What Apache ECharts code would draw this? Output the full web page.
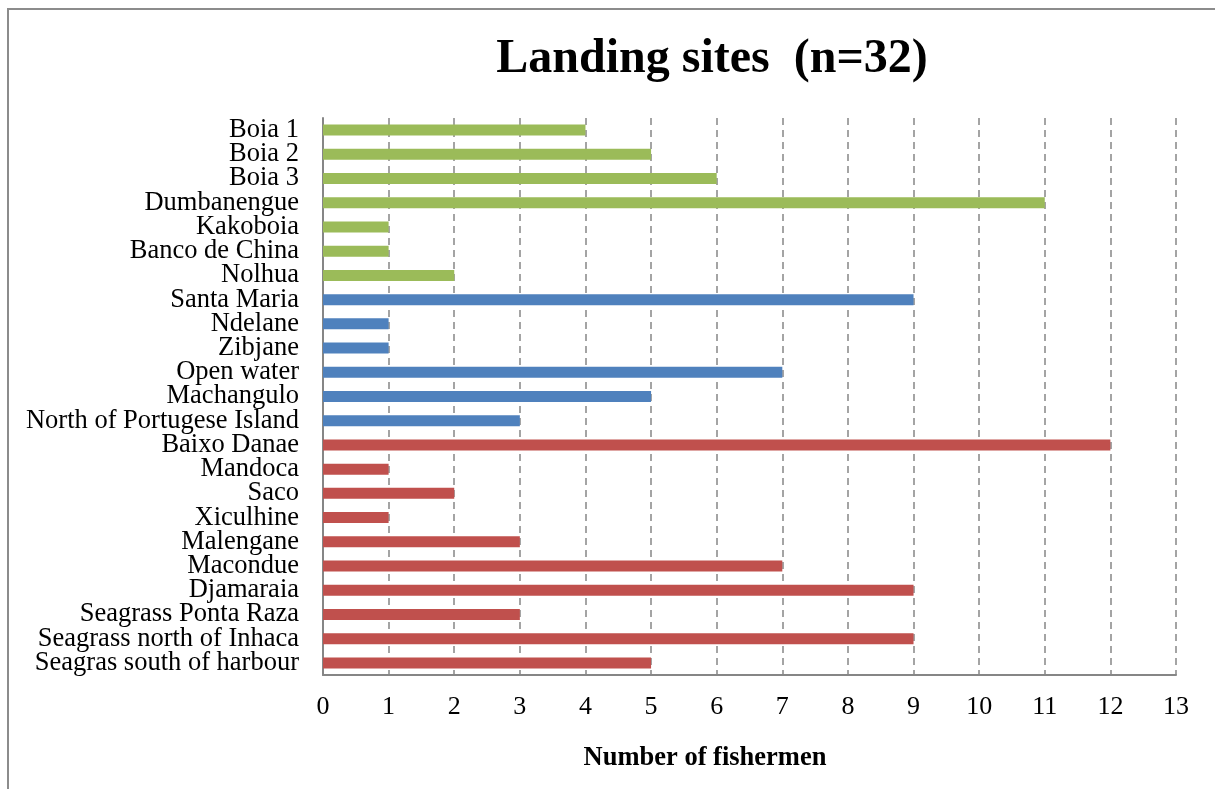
<!DOCTYPE html>
<html>
<head>
<meta charset="utf-8">
<script src="https://cdn.jsdelivr.net/npm/echarts@6/dist/echarts.min.js"></script>
<style>
  html, body { margin: 0; padding: 0; background: #fff; }
  #chart { width: 1215px; height: 789px; }
</style>
</head>
<body>
<div id="chart"></div>
<script>
var sites = ['Boia 1', 'Boia 2', 'Boia 3', 'Dumbanengue', 'Kakoboia', 'Banco de China', 'Nolhua',
    'Santa Maria', 'Ndelane', 'Zibjane', 'Open water', 'Machangulo', 'North of Portugese Island',
    'Baixo Danae', 'Mandoca', 'Saco', 'Xiculhine', 'Malengane', 'Macondue', 'Djamaraia',
    'Seagrass Ponta Raza', 'Seagrass north of Inhaca', 'Seagras south of harbour'];
var fishermen = [4, 5, 6, 11, 1, 1, 2, 9, 1, 1, 7, 5, 3, 12, 1, 2, 1, 3, 7, 9, 3, 9, 5];
var groups = ['A', 'A', 'A', 'A', 'A', 'A', 'A', 'B', 'B', 'B', 'B', 'B', 'B',
    'C', 'C', 'C', 'C', 'C', 'C', 'C', 'C', 'C', 'C'];
var xTicks = [0, 1, 2, 3, 4, 5, 6, 7, 8, 9, 10, 11, 12, 13];

var groupColor = {A: '#9bbb59', B: '#4f81bd', C: '#c0504d'};
var serif = '"Liberation Serif", "Times New Roman", serif';

var chart = echarts.init(document.getElementById('chart'));
var option = {
    backgroundColor: '#fff',
    animation: false,
    grid: {left: 323, right: 39, top: 118, bottom: 114},
    xAxis: {
        type: 'value',
        min: xTicks[0],
        max: xTicks[xTicks.length - 1],
        interval: 1,
        axisLine: {show: true, lineStyle: {color: '#868686', width: 2}},
        axisTick: {show: false},
        axisLabel: {color: '#000', fontFamily: serif, fontSize: 26, margin: 19},
        splitLine: {show: true, lineStyle: {color: '#868686', width: 1.5, type: [7, 5]}}
    },
    yAxis: {
        type: 'category',
        inverse: true,
        data: sites,
        axisLine: {show: true, lineStyle: {color: '#868686', width: 2}},
        axisTick: {show: false},
        axisLabel: {color: '#000', fontFamily: serif, fontSize: 26.5, margin: 24, interval: 0}
    },
    series: [{
        type: 'bar',
        barWidth: 11,
        data: fishermen.map(function (v, i) {
            return {value: v, itemStyle: {color: groupColor[groups[i]]}};
        })
    }],
    graphic: [
        {type: 'rect', shape: {x: 8, y: 9, width: 1400, height: 1000},
            style: {fill: null, stroke: '#8c8c8c', lineWidth: 2}, silent: true},
        {type: 'text', x: 712, y: 60,
            style: {text: 'Landing sites  (n=32)', font: 'bold 48px ' + serif, fill: '#000',
                textAlign: 'center', textVerticalAlign: 'middle'}},
        {type: 'text', x: 705, y: 758,
            style: {text: 'Number of fishermen', font: 'bold 26.5px ' + serif, fill: '#000',
                textAlign: 'center', textVerticalAlign: 'middle'}}
    ]
};
chart.setOption(option);
</script>
</body>
</html>
